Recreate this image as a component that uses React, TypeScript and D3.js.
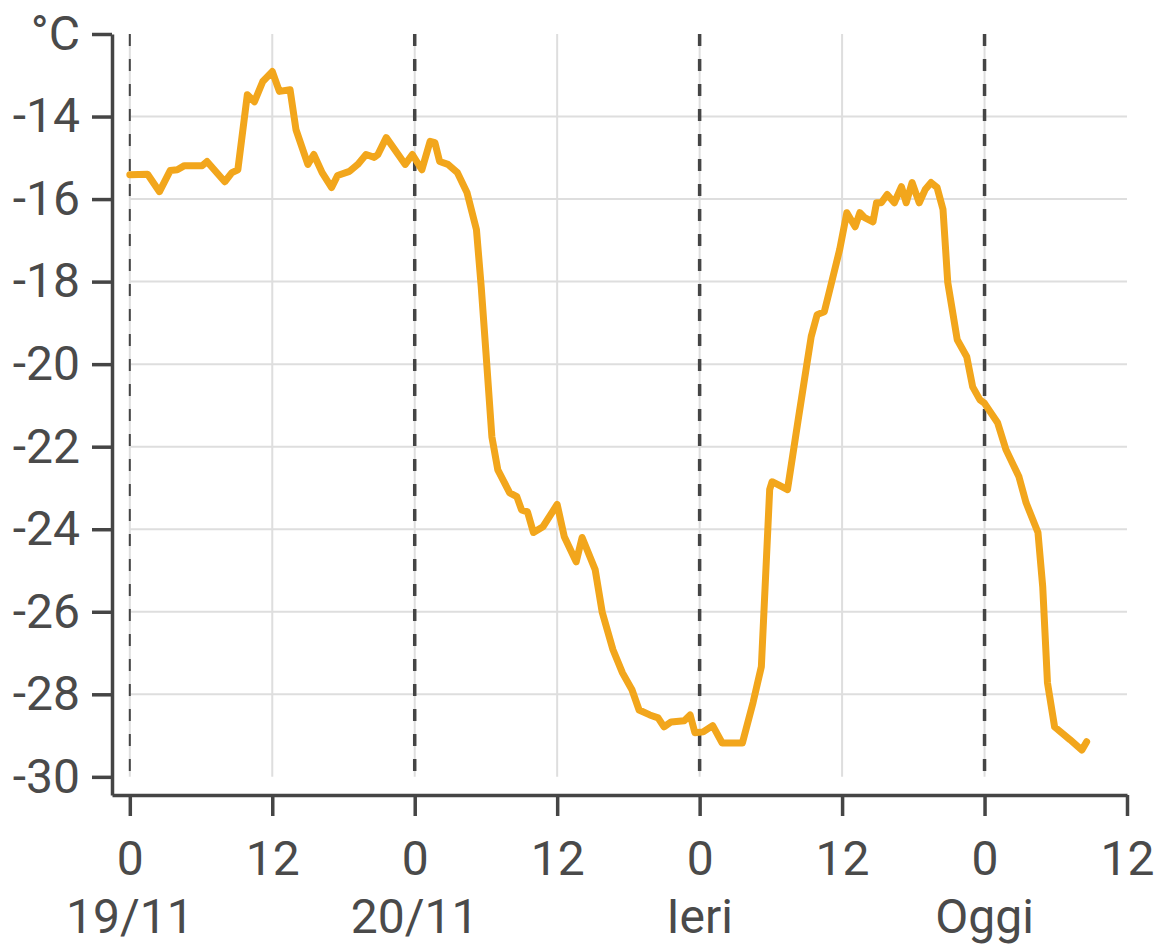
import React, { useEffect, useRef } from 'react';
import * as d3 from 'd3';

// hours since 19/11 00:00
const hours = [
  0.0, 1.5, 2.5, 3.4, 4.0, 4.6, 6.1, 6.5, 8.0, 8.6, 9.1, 9.9, 10.5, 11.2, 12.0, 12.6, 13.5, 14.0,
  15.0, 15.5, 16.2, 17.0, 17.5, 18.5, 19.2, 19.9, 20.6, 20.9, 21.6, 23.2, 23.8, 24.6, 25.3, 25.7,
  26.1, 26.8, 27.6, 28.4, 29.2, 29.6, 30.0, 30.5, 31.0, 32.0, 32.6, 33.0, 33.5, 34.0, 34.8, 36.0,
  36.6, 37.6, 38.1, 39.2, 39.8, 40.7, 41.5, 42.3, 42.9, 43.8, 44.5, 45.0, 45.6, 46.7, 47.2, 47.6,
  48.3, 49.1, 49.9, 51.6, 52.5, 53.2, 53.9, 54.1, 54.6, 55.4, 56.3, 57.0, 57.4, 57.9, 58.5, 58.9,
  59.8, 60.4, 61.1, 61.5, 61.9, 62.6, 62.9, 63.3, 63.8, 64.4, 65.0, 65.4, 65.9, 66.5, 67.0, 67.5,
  68.0, 68.5, 68.9, 69.7, 70.5, 71.0, 71.6, 72.0, 73.1, 73.8, 74.9, 75.5, 76.5, 76.9, 77.3, 77.9,
  79.2, 80.2, 80.6,
];

const temps = [
  -15.41, -15.4, -15.82, -15.31, -15.29, -15.19, -15.19, -15.09, -15.58, -15.36, -15.29, -13.47,
  -13.64, -13.15, -12.91, -13.39, -13.35, -14.32, -15.16, -14.92, -15.36, -15.72, -15.43, -15.33,
  -15.16, -14.92, -14.99, -14.92, -14.51, -15.16, -14.92, -15.29, -14.6, -14.63, -15.09, -15.16,
  -15.36, -15.84, -16.74, -18.12, -19.72, -21.76, -22.56, -23.12, -23.21, -23.53, -23.58, -24.08,
  -23.94, -23.4, -24.18, -24.79, -24.2, -24.98, -26.02, -26.92, -27.48, -27.89, -28.38, -28.5,
  -28.57, -28.79, -28.67, -28.64, -28.5, -28.93, -28.91, -28.76, -29.18, -29.18, -28.2, -27.33,
  -23.04, -22.85, -22.92, -23.04, -21.35, -20.06, -19.33, -18.8, -18.73, -18.27, -17.22, -16.33,
  -16.67, -16.33, -16.45, -16.55, -16.09, -16.09, -15.89, -16.09, -15.7, -16.09, -15.6, -16.09,
  -15.77, -15.6, -15.72, -16.25, -18.02, -19.41, -19.82, -20.55, -20.86, -20.95, -21.42, -22.07,
  -22.73, -23.36, -24.08, -25.39, -27.72, -28.79, -29.1, -29.35, -29.15,
];

const yTicks = [-30, -28, -26, -24, -22, -20, -18, -16, -14, -12];
const xTicks = [0, 12, 24, 36, 48, 60, 72, 84];
const midnights = [0, 24, 48, 72];
const dayLabels = ['19/11', '20/11', 'Ieri', 'Oggi'];
const unitLabel = '°C';

const W = 1164;
const H = 947;
const AXIS = '#454545';
const TEXT = '#4a4a4a';
const GRID = '#dedede';
const LINE = '#f2a61c';
const FONT = 'Roboto, sans-serif';
const FONT_SIZE = '48px';

export default function App() {
  const svgRef = useRef<SVGSVGElement>(null);

  useEffect(() => {
    if (!svgRef.current) return;
    const svg = d3.select(svgRef.current);
    svg.selectAll('*').remove();

    const x = d3.scaleLinear().domain([-1.5, 84]).range([112, 1127]);
    const y = d3.scaleLinear().domain([-30.44, -12]).range([795, 34]);

    // grid
    const grid = svg.append('g');
    grid
      .selectAll('line.h')
      .data(yTicks.filter(t => t > -30 && t < -12))
      .join('line')
      .attr('x1', x(0))
      .attr('x2', x(84))
      .attr('y1', d => y(d))
      .attr('y2', d => y(d))
      .attr('stroke', GRID)
      .attr('stroke-width', 2);
    grid
      .selectAll('line.v')
      .data(xTicks.filter(t => t < 84))
      .join('line')
      .attr('x1', d => x(d))
      .attr('x2', d => x(d))
      .attr('y1', y(-12))
      .attr('y2', y(-30))
      .attr('stroke', GRID)
      .attr('stroke-width', 2);
    svg
      .append('g')
      .selectAll('line')
      .data(midnights)
      .join('line')
      .attr('x1', d => x(d))
      .attr('x2', d => x(d))
      .attr('y1', y(-12))
      .attr('y2', y(-30))
      .attr('stroke', AXIS)
      .attr('stroke-width', (d, i) => (i === 0 ? 2 : 3.5))
      .attr('stroke-dasharray', '12,13');

    // temperature line
    const line = d3
      .line<number>()
      .x((_, i) => x(hours[i]))
      .y(d => y(d));
    svg
      .append('path')
      .datum(temps)
      .attr('d', line)
      .attr('fill', 'none')
      .attr('stroke', LINE)
      .attr('stroke-width', 7)
      .attr('stroke-linejoin', 'round')
      .attr('stroke-linecap', 'round');

    // y axis
    const yAxis = svg
      .append('g')
      .attr('transform', `translate(${x(-1.5)},0)`)
      .call(
        d3
          .axisLeft(y)
          .tickValues(yTicks)
          .tickSize(20)
          .tickSizeOuter(0)
          .tickPadding(12)
          .tickFormat(d => ((d as number) === -12 ? unitLabel : String(d)))
      );
    yAxis.selectAll('path, line').attr('stroke', AXIS).attr('stroke-width', 3.5);
    yAxis
      .selectAll('text')
      .attr('fill', TEXT)
      .style('font-family', FONT)
      .style('font-size', FONT_SIZE);

    // x axis
    const xAxis = svg
      .append('g')
      .attr('transform', `translate(0,${y.range()[0]})`)
      .call(
        d3
          .axisBottom(x)
          .tickValues(xTicks)
          .tickSize(21)
          .tickSizeOuter(0)
          .tickPadding(25)
          .tickFormat(d => String((d as number) % 24))
      );
    xAxis.selectAll('path, line').attr('stroke', AXIS).attr('stroke-width', 3.5);
    xAxis
      .selectAll('text')
      .attr('fill', TEXT)
      .style('font-family', FONT)
      .style('font-size', FONT_SIZE);

    // day labels
    svg
      .append('g')
      .selectAll('text')
      .data(midnights)
      .join('text')
      .attr('x', d => x(d))
      .attr('y', 933)
      .attr('text-anchor', 'middle')
      .attr('fill', TEXT)
      .style('font-family', FONT)
      .style('font-size', FONT_SIZE)
      .text((_, i) => dayLabels[i]);
  }, []);

  return (
    <svg
      ref={svgRef}
      width={W}
      height={H}
      style={{ position: 'absolute', left: 0, top: 0, background: '#fff' }}
    />
  );
}
